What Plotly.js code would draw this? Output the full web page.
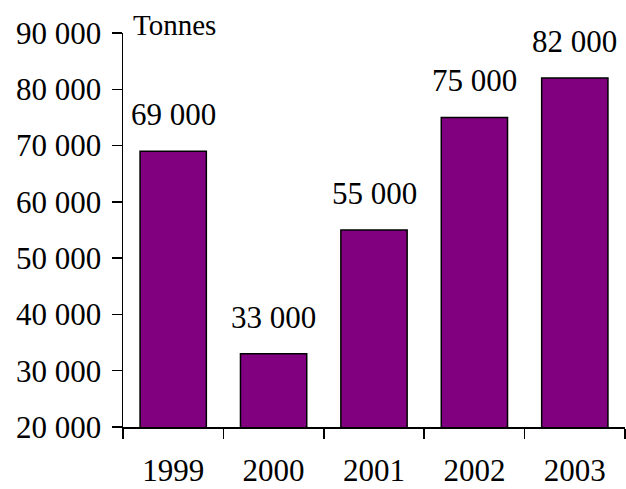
<!DOCTYPE html>
<html>
<head>
<meta charset="utf-8">
<script src="https://cdn.plot.ly/plotly-3.0.1.min.js"></script>
<style>html,body{margin:0;padding:0;background:#fff;}#chart{width:626px;height:489px;}</style>
</head>
<body>
<div id="chart"></div>
<script>
const years = ['1999', '2000', '2001', '2002', '2003'];
const tonnes = [69000, 33000, 55000, 75000, 82000];
const valueLabels = ['69 000', '33 000', '55 000', '75 000', '82 000'];
const unitLabel = 'Tonnes';

const FONT = 'Liberation Serif, Times New Roman, serif';

const trace = {
  type: 'bar',
  x: years,
  y: tonnes,
  marker: {color: '#800080', line: {color: '#000000', width: 1.5}},
  hoverinfo: 'skip'
};

const annotations = years.map((yr, i) => ({
  x: i, y: tonnes[i], xref: 'x', yref: 'y',
  text: valueLabels[i], showarrow: false,
  yanchor: 'bottom', yshift: 17,
  font: {family: FONT, size: 31, color: '#000'}
}));
annotations.push({
  xref: 'paper', yref: 'paper', x: 0.015, y: 1.0,
  xanchor: 'left', yanchor: 'middle', yshift: 8,
  text: unitLabel, showarrow: false,
  font: {family: FONT, size: 29, color: '#000'}
});

const layout = {
  width: 626, height: 489,
  margin: {l: 123, r: 1, t: 33, b: 62, pad: 0},
  paper_bgcolor: '#fff', plot_bgcolor: '#fff',
  font: {family: FONT, size: 31, color: '#000'},
  separators: '. ',
  showlegend: false,
  bargap: 0.34,
  xaxis: {
    type: 'category',
    range: [-0.5, 4.5],
    showline: true, linecolor: '#000', linewidth: 1.5,
    ticks: 'outside', tickson: 'boundaries', ticklen: 10, tickwidth: 1.5, tickcolor: '#000',
    ticklabelstandoff: 15,
    tickangle: 0,
    showgrid: false, zeroline: false,
    tickfont: {family: FONT, size: 31, color: '#000'}
  },
  yaxis: {
    range: [20000, 90000], dtick: 10000, tick0: 20000,
    tickformat: ',d',
    showline: true, linecolor: '#000', linewidth: 1.5,
    ticks: 'outside', ticklen: 10, tickwidth: 1.5, tickcolor: '#000',
    ticklabelstandoff: 4,
    showgrid: false, zeroline: false,
    tickfont: {family: FONT, size: 31, color: '#000'}
  },
  annotations: annotations
};

Plotly.newPlot('chart', [trace], layout, {displayModeBar: false, staticPlot: true});
</script>
</body>
</html>
